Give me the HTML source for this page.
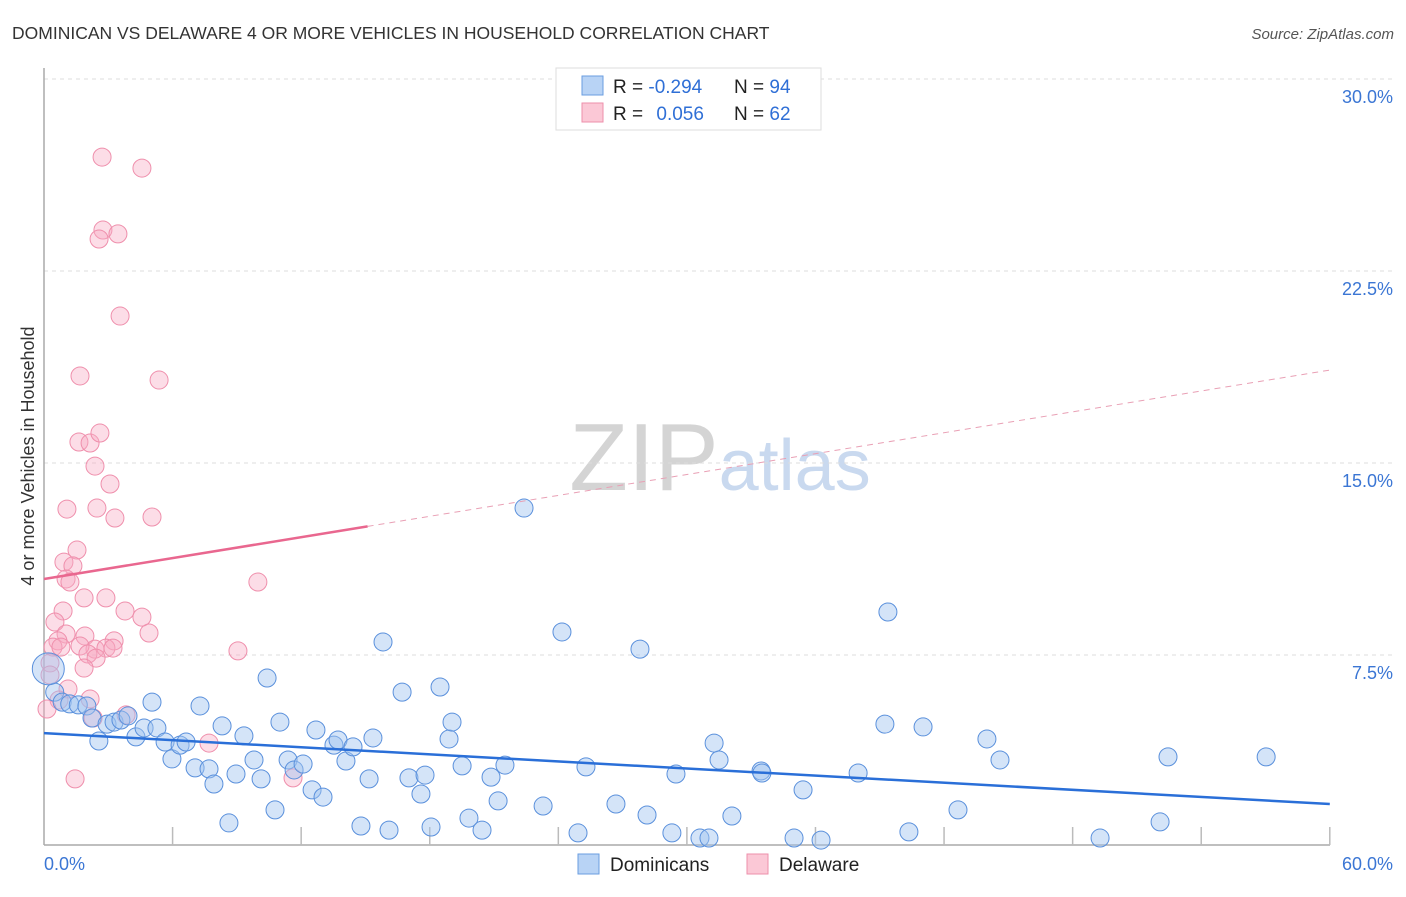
<!DOCTYPE html>
<html><head><meta charset="utf-8"><style>
body{margin:0;background:#fff;font-family:"Liberation Sans",sans-serif;}
svg text{font-family:"Liberation Sans",sans-serif;}
</style></head><body>
<svg id="chart" width="1406" height="892" xmlns="http://www.w3.org/2000/svg">
<text x="12" y="39" font-size="17.5" fill="#333">DOMINICAN VS DELAWARE 4 OR MORE VEHICLES IN HOUSEHOLD CORRELATION CHART</text>
<text x="1394" y="39" font-size="15" fill="#555" text-anchor="end" font-style="italic">Source: ZipAtlas.com</text>
<text x="0" y="0" transform="translate(34,456) rotate(-90)" font-size="18" fill="#333" text-anchor="middle">4 or more Vehicles in Household</text>
<text x="720" y="490" font-size="96" fill="#d8d8d8" text-anchor="middle" font-family="Liberation Serif"><tspan fill="#d4d4d4">ZIP</tspan><tspan fill="#c9d9ef" font-family="Liberation Sans" font-size="72">atlas</tspan></text>
<g id="grid"></g><g id="ticks"></g><g id="pts"></g><g id="lines"></g>
<g>
<rect x="556" y="68" width="265" height="62" fill="#fff" stroke="#ddd"/>
<rect x="582" y="76" width="21" height="19" fill="#b8d3f5" stroke="#6a9ee0"/>
<rect x="582" y="103" width="21" height="19" fill="#fbc8d6" stroke="#ee8fab"/>
<text x="613" y="93" font-size="19" fill="#222">R = <tspan fill="#2f6fd6">-0.294</tspan></text>
<text x="734" y="93" font-size="19" fill="#222">N = <tspan fill="#2f6fd6">94</tspan></text>
<text x="613" y="120" font-size="19" fill="#222">R = <tspan fill="#2f6fd6" dx="8">0.056</tspan></text>
<text x="734" y="120" font-size="19" fill="#222">N = <tspan fill="#2f6fd6">62</tspan></text>
</g>
<g>
<rect x="578" y="854" width="21" height="20" fill="#b8d3f5" stroke="#6a9ee0"/>
<text x="610" y="871" font-size="19" fill="#222">Dominicans</text>
<rect x="747" y="854" width="21" height="20" fill="#fbc8d6" stroke="#ee8fab"/>
<text x="779" y="871" font-size="19" fill="#222">Delaware</text>
</g>
</svg>
<script>
const xTicks=[0,60];
const yTicks=[7.5,15,22.5,30];
const yTickLabels=["7.5%","15.0%","22.5%","30.0%"];
const blueX=[0.5,0.85,1.2,1.6,2.0,2.24,2.56,2.94,3.27,3.59,3.92,4.29,4.67,5.04,5.27,5.65,5.97,6.35,6.63,7.05,7.28,7.7,7.93,8.31,8.63,8.96,9.33,9.8,10.13,10.41,10.78,11.01,11.39,11.67,12.09,12.51,12.69,13.02,13.53,13.72,14.09,14.42,14.79,15.17,15.35,15.82,16.1,16.71,17.03,17.59,17.78,18.06,18.48,18.9,19.04,19.51,19.83,20.44,20.86,21.19,21.51,22.4,23.29,24.17,24.92,25.29,26.69,27.81,28.14,29.3,29.49,30.61,31.03,31.27,31.5,32.1,33.46,33.5,35.0,35.42,36.26,37.99,39.24,39.38,40.36,41.02,42.65,44.0,44.61,49.28,52.08,52.45,57.03,0.2];
const blueY=[6.05,5.66,5.59,5.55,5.51,5.04,4.14,4.8,4.88,4.96,5.12,4.3,4.65,5.66,4.65,4.1,3.44,3.98,4.1,3.09,5.51,3.05,2.46,4.73,0.94,2.85,4.34,3.4,2.66,6.6,1.45,4.88,3.4,3.01,3.24,2.23,4.57,1.95,3.98,4.18,3.36,3.91,0.82,2.66,4.26,8.01,0.66,6.05,2.7,2.07,2.81,0.78,6.25,4.22,4.88,3.17,1.13,0.66,2.73,1.8,3.2,13.24,1.6,8.4,0.55,3.13,1.68,7.73,1.25,0.55,2.85,0.35,0.35,4.06,3.4,1.21,2.97,2.89,0.35,2.23,0.27,2.89,4.8,9.18,0.59,4.69,1.45,4.22,3.4,0.35,0.98,3.52,3.52,6.96];
const pinkX=[2.71,4.57,2.75,2.57,3.45,3.55,1.68,5.37,1.63,2.15,2.61,2.38,3.08,1.07,2.47,3.31,5.04,1.54,0.93,1.35,1.03,1.21,9.98,1.87,2.89,0.89,3.78,4.57,0.51,1.03,4.9,1.91,0.65,3.27,0.42,0.79,2.38,2.89,1.68,3.22,9.05,2.05,2.43,0.28,1.87,0.28,1.12,2.15,0.7,2.29,3.83,7.7,1.45,11.62,0.14];
const pinkY=[26.95,26.52,24.1,23.75,23.95,20.74,18.4,18.24,15.82,15.78,16.17,14.88,14.18,13.2,13.24,12.85,12.89,11.6,11.13,10.98,10.47,10.35,10.35,9.73,9.73,9.22,9.22,8.98,8.79,8.32,8.36,8.24,8.05,8.05,7.81,7.81,7.73,7.77,7.85,7.77,7.66,7.54,7.38,7.19,6.99,6.72,6.17,5.78,5.74,5.04,5.16,4.06,2.66,2.7,5.39];
const blueTrend=[4.45,1.68];
const pinkTrend=[10.47,18.63];
const pinkSolidEnd=15.1;
const X=v=>44+v*21.43, Y=v=>847-v*25.6;
const NS="http://www.w3.org/2000/svg";
function mk(t,a,p){const e=document.createElementNS(NS,t);for(const k in a)e.setAttribute(k,a[k]);p.appendChild(e);return e;}
const grid=document.getElementById('grid'),ticks=document.getElementById('ticks'),pts=document.getElementById('pts'),lines=document.getElementById('lines');
yTicks.forEach((v,i)=>{
 const l=mk('line',{x1:44,x2:1394,y1:Y(v),y2:Y(v),stroke:'#ddd','stroke-dasharray':'4,4'},grid);
 
 
 const t=mk('text',{x:1393,y:Y(v)+24,'font-size':18,fill:'#3b76d4','text-anchor':'end'},ticks);
 t.textContent=yTickLabels[i];
 
 
});
const ax=mk('line',{x1:44,x2:1330,y1:845,y2:845,stroke:'#aaa','stroke-width':1.5},ticks);


const ay=mk('line',{x1:44,x2:44,y1:68,y2:845,stroke:'#aaa','stroke-width':1.5},ticks);


for(let i=1;i<=10;i++){const v=i*6;const l=mk('line',{x1:X(v),x2:X(v),y1:827,y2:845,stroke:'#bbb','stroke-width':1.5},ticks);
 
 }
xTicks.forEach((v,i)=>{const t=mk('text',{x:i?1393:44,y:870,'font-size':18,fill:'#3b76d4','text-anchor':i?'end':'start'},ticks);
 t.textContent=v.toFixed(1)+'%';
 
 });
pinkX.forEach((x,i)=>{const c=mk('circle',{cx:X(x),cy:Y(pinkY[i]),r:9,fill:'rgba(248,170,195,0.4)',stroke:'#ef8fac','stroke-width':1},pts);
 
 });
blueX.forEach((x,i)=>{const c=mk('circle',{cx:X(x),cy:Y(blueY[i]),r:i==blueX.length-1?16:9,fill:'rgba(160,196,240,0.45)',stroke:'#5a90dc','stroke-width':1},pts);
 
 });
const bl=mk('line',{x1:X(0),y1:Y(blueTrend[0]),x2:X(60),y2:Y(blueTrend[1]),stroke:'#2a6fd8','stroke-width':2.5},lines);


const py=v=>pinkTrend[0]+(pinkTrend[1]-pinkTrend[0])*v/60;
const pl=mk('line',{x1:X(0),y1:Y(py(0)),x2:X(pinkSolidEnd),y2:Y(py(pinkSolidEnd)),stroke:'#e9678f','stroke-width':2.5},lines);


const pd=mk('line',{x1:X(pinkSolidEnd),y1:Y(py(pinkSolidEnd)),x2:X(60),y2:Y(py(60)),stroke:'#e9a0b5','stroke-width':1,'stroke-dasharray':'6,5'},lines);


</script>
</body></html>
